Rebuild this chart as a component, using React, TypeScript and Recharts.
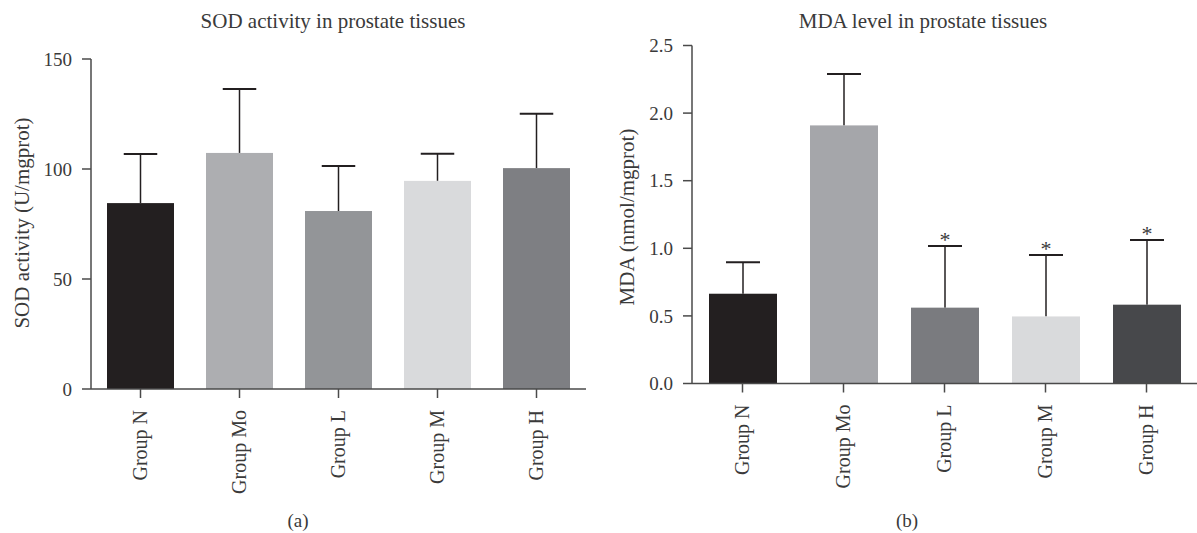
import React from "react";
import { BarChart, Bar, XAxis, YAxis, Cell } from "recharts";

const categories = ["Group N", "Group Mo", "Group L", "Group M", "Group H"];
const sodMean = [84.5, 107.3, 80.9, 94.6, 100.4];
const sodErr = [22.3, 29.1, 20.5, 12.3, 24.7];
const sodColors = ["#231f20", "#adaeb1", "#939598", "#d9dadc", "#7e7f83"];
const sodTicks = [0, 50, 100, 150];

const mdaMean = [0.664, 1.909, 0.561, 0.496, 0.583];
const mdaErr = [0.232, 0.38, 0.456, 0.454, 0.478];
const mdaSig = ["", "", "*", "*", "*"];
const mdaColors = ["#231f20", "#a5a6aa", "#7a7b7f", "#d9dadc", "#47484b"];
const mdaTicks = [0, 0.5, 1.0, 1.5, 2.0, 2.5];

const sodData = categories.map((c, i) => ({ name: c, value: sodMean[i], err: sodErr[i], sig: "" }));
const mdaData = categories.map((c, i) => ({ name: c, value: mdaMean[i], err: mdaErr[i], sig: mdaSig[i] }));

const FONT = "'Liberation Serif', 'Times New Roman', serif";
const TEXT = "#3a3a3a";
const AXIS = "#4a4a4a";

const ErrBarShape = (props: any) => {
  const { x, y, width, height, fill, payload } = props;
  const pxPerUnit = height / payload.value;
  const top = y - payload.err * pxPerUnit;
  const cx = x + width / 2;
  const half = width / 4;
  return (
    <g>
      <line x1={cx} x2={cx} y1={y} y2={top} stroke="#231f20" strokeWidth={1.5} />
      <line x1={cx - half} x2={cx + half} y1={top} y2={top} stroke="#231f20" strokeWidth={2} />
      <rect x={x} y={y} width={width} height={height} fill={fill} />
      {payload.sig ? (
        <text x={cx} y={top + 1} textAnchor="middle" fontFamily={FONT} fontSize={22} fill={TEXT}>
          {payload.sig}
        </text>
      ) : null}
    </g>
  );
};

const XTick = (props: any) => {
  const { x, y, payload } = props;
  return (
    <text
      transform={`translate(${x + 6},${y}) rotate(-90)`}
      textAnchor="end"
      fontFamily={FONT}
      fontSize={20}
      fill={TEXT}
    >
      {payload.value}
    </text>
  );
};

const yTickStyle = { fontFamily: FONT, fontSize: 19, fill: TEXT };

export default function App() {
  return (
    <div style={{ position: "absolute", left: 0, top: 0, width: 1197, height: 533, background: "#fff" }}>
      <div style={{ position: "absolute", left: 0, top: 0 }}>
        <BarChart width={600} height={533} data={sodData} margin={{ top: 59, right: 14, bottom: 44, left: 0 }}>
          <XAxis
            dataKey="name"
            height={100}
            interval={0}
            tickSize={9}
            tickMargin={12}
            tick={<XTick />}
            axisLine={{ stroke: AXIS, strokeWidth: 1.5 }}
            tickLine={{ stroke: AXIS, strokeWidth: 1.5 }}
          />
          <YAxis
            width={91}
            domain={[0, 150]}
            ticks={sodTicks}
            tickSize={9}
            tickMargin={10}
            tick={yTickStyle}
            axisLine={{ stroke: AXIS, strokeWidth: 1.5 }}
            tickLine={{ stroke: AXIS, strokeWidth: 1.5 }}
          />
          <Bar dataKey="value" barSize={67} isAnimationActive={false} shape={<ErrBarShape />}>
            {sodData.map((d, i) => (
              <Cell key={d.name} fill={sodColors[i]} />
            ))}
          </Bar>
        </BarChart>
      </div>
      <div style={{ position: "absolute", left: 590, top: 0 }}>
        <BarChart width={607} height={533} data={mdaData} margin={{ top: 45.5, right: 0, bottom: 49.5, left: 0 }}>
          <XAxis
            dataKey="name"
            height={100}
            interval={0}
            tickSize={9}
            tickMargin={12}
            tick={<XTick />}
            axisLine={{ stroke: AXIS, strokeWidth: 1.5 }}
            tickLine={{ stroke: AXIS, strokeWidth: 1.5 }}
          />
          <YAxis
            width={102}
            domain={[0, 2.5]}
            ticks={mdaTicks}
            tickFormatter={(v: number) => v.toFixed(1)}
            tickSize={9}
            tickMargin={10}
            tick={yTickStyle}
            axisLine={{ stroke: AXIS, strokeWidth: 1.5 }}
            tickLine={{ stroke: AXIS, strokeWidth: 1.5 }}
          />
          <Bar dataKey="value" barSize={68} isAnimationActive={false} shape={<ErrBarShape />}>
            {mdaData.map((d, i) => (
              <Cell key={d.name} fill={mdaColors[i]} />
            ))}
          </Bar>
        </BarChart>
      </div>
      <svg
        width={1197}
        height={533}
        style={{ position: "absolute", left: 0, top: 0, pointerEvents: "none" }}
        fontFamily={FONT}
        fill={TEXT}
      >
        <text x={333} y={28} textAnchor="middle" fontSize={21}>SOD activity in prostate tissues</text>
        <text x={923} y={28} textAnchor="middle" fontSize={21}>MDA level in prostate tissues</text>
        <text transform="translate(29,223) rotate(-90)" textAnchor="middle" fontSize={21}>
          SOD activity (U/mgprot)
        </text>
        <text transform="translate(634,217) rotate(-90)" textAnchor="middle" fontSize={21}>
          MDA (nmol/mgprot)
        </text>
        <text x={298} y={527} textAnchor="middle" fontSize={19}>(a)</text>
        <text x={907} y={527} textAnchor="middle" fontSize={19}>(b)</text>
      </svg>
    </div>
  );
}
